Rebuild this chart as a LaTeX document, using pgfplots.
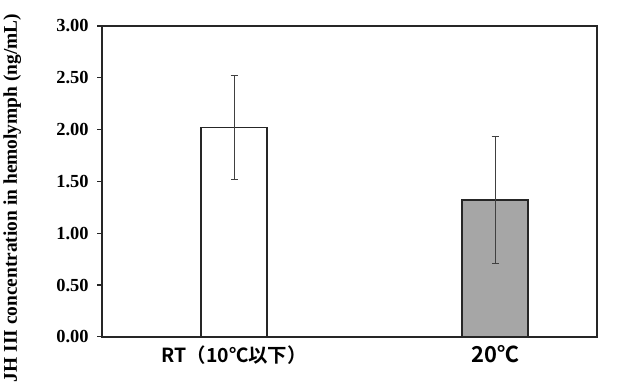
\documentclass[border=0pt]{standalone}
\usepackage{pgfplots}
\pgfplotsset{compat=1.18}
\usepackage{fontspec}
\setmainfont{Liberation Serif}
\newfontfamily\cjk{Noto Sans CJK JP}[BoldFont={Noto Sans CJK JP Bold}]
\definecolor{bargray}{HTML}{A6A6A6}
\begin{document}
\begin{tikzpicture}
\begin{axis}[
  at={(0,0)}, anchor=south west,
  scale only axis, width=495bp, height=311bp,
  xmin=-0.506, xmax=1.39, ymin=0, ymax=3,
  ytick={0,0.5,1,1.5,2,2.5,3},
  yticklabel style={font=\fontsize{18.5}{20}\selectfont, xshift=-5bp, /pgf/number format/.cd, fixed, fixed zerofill, precision=2, assume math mode=true},
  yticklabel={\bfseries\pgfmathprintnumber{\tick}},
  xtick={0,1}, xticklabels={{\cjk\bfseries RT（10℃以下）},{\cjk\bfseries\fontsize{22}{24}\selectfont 20℃}},
  xticklabel style={font=\cjk\fontsize{19.5}{22}\selectfont, yshift=0bp},
  xtick style={draw=none},
  ytick style={black!85, line width=1.2pt},
  tick align=outside, tick pos=left, major tick length=5bp,
  axis line style={line width=1.6pt, black!85},
  ylabel={\bfseries JH III concentration in hemolymph (ng/mL)},
  ylabel style={font=\fontsize{19.5}{20}\selectfont, at={(-90bp,139bp)}, anchor=center, rotate=0},
  ybar, bar width=66bp, bar shift=0pt,
]
\addplot[draw=black!85, line width=1.6pt, fill=white,
  error bars/.cd, y dir=both, y explicit, error bar style={line width=0.8pt, black!75}, error mark options={rotate=90, mark size=3.5bp, line width=0.8pt, black!75}]
  coordinates {(0,2.02) +- (0,0.50)};
\addplot[draw=black!85, line width=1.6pt, fill=bargray,
  error bars/.cd, y dir=both, y explicit, error bar style={line width=0.8pt, black!75}, error mark options={rotate=90, mark size=3.5bp, line width=0.8pt, black!75}]
  coordinates {(1,1.32) +- (0,0.61)};
\end{axis}
\useasboundingbox (-102bp,-55bp) rectangle (530bp,337bp);
\end{tikzpicture}
\end{document}
